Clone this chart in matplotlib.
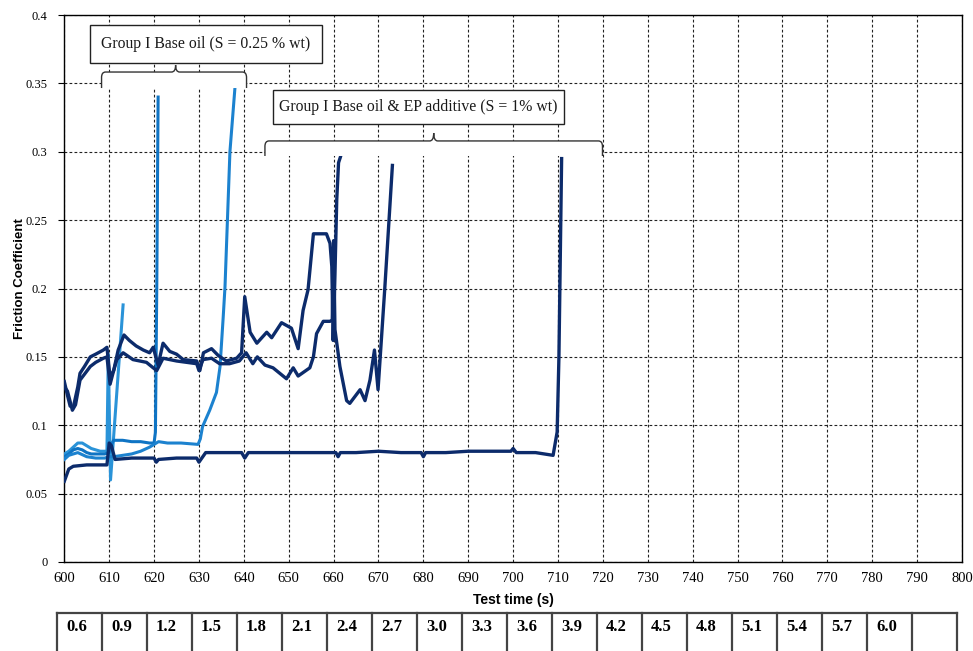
import matplotlib
matplotlib.use('Agg')
import matplotlib.pyplot as plt
from matplotlib.path import Path
from matplotlib.patches import PathPatch, Rectangle

# Group I base oil runs (S = 0.25 % wt)
base_a_t = [600, 601, 602, 603, 604, 605, 606, 607, 608, 609, 609.5, 609.8, 610.3, 613.1]
base_a_v = [0.079, 0.081, 0.084, 0.087, 0.087, 0.085, 0.083, 0.082, 0.081, 0.081, 0.081, 0.152, 0.060, 0.188]

base_b_t = [600, 601, 602, 603, 604, 605, 606, 607, 608, 609, 610, 610.5, 611, 613, 615, 617,
            619, 620, 620.3, 620.6, 620.9]
base_b_v = [0.077, 0.079, 0.082, 0.083, 0.082, 0.080, 0.079, 0.079, 0.079, 0.079, 0.080, 0.086,
            0.089, 0.089, 0.088, 0.088, 0.087, 0.087, 0.095, 0.200, 0.340]

base_c_t = [600, 601, 603, 605, 607, 609, 610, 611, 613, 615, 617, 619, 620, 621, 623, 626,
            629.8, 630.3, 630.8, 632.4, 633.9, 634.7, 635.4, 635.8, 636.9, 638]
base_c_v = [0.075, 0.078, 0.080, 0.077, 0.076, 0.076, 0.077, 0.077, 0.078, 0.079, 0.081, 0.084,
            0.086, 0.088, 0.087, 0.087, 0.086, 0.090, 0.099, 0.111, 0.124, 0.143, 0.179, 0.201,
            0.300, 0.346]

# Group I base oil + EP additive runs (S = 1 % wt)
ep_d_t = [600, 601, 602, 605, 608, 609.5, 610, 610.5, 611.3, 615, 620, 620.5, 621, 625, 629.5,
          630, 631.5, 635, 639.5, 640.2, 641, 645, 650, 655, 660.5, 661, 661.5, 665, 670, 675,
          679.5, 680, 680.5, 685, 690, 695, 699.5, 700, 700.7, 705, 708.9, 709.8, 710.2, 710.8]
ep_d_v = [0.059, 0.068, 0.070, 0.071, 0.071, 0.071, 0.087, 0.085, 0.075, 0.076, 0.076, 0.073,
          0.075, 0.076, 0.076, 0.073, 0.080, 0.080, 0.080, 0.076, 0.080, 0.080, 0.080, 0.080,
          0.080, 0.077, 0.080, 0.080, 0.081, 0.080, 0.080, 0.077, 0.080, 0.080, 0.081, 0.081,
          0.081, 0.083, 0.080, 0.080, 0.078, 0.095, 0.150, 0.295]

ep_e_t = [600, 600.7, 601.3, 602, 603, 603.5, 604.5, 605.8, 607, 608.7, 609.5, 610.2, 611, 612,
          613.3, 614.5, 616, 617.6, 619, 619.8, 620.9, 622, 623.5, 625, 626.5, 629.5, 630.2, 631,
          632.8, 634.3, 636.1, 638.4, 639.5, 640.2, 641.4, 642.9, 645.1, 646.2, 648.4, 650.6,
          652.1, 653.2, 654.3, 655.5, 658.4, 659.2, 659.6, 659.9, 660.3, 660.7, 661.1, 661.5]
ep_e_v = [0.132, 0.122, 0.114, 0.113, 0.128, 0.138, 0.143, 0.150, 0.152, 0.155, 0.157, 0.135,
          0.140, 0.155, 0.166, 0.162, 0.158, 0.155, 0.153, 0.157, 0.144, 0.160, 0.154, 0.152,
          0.148, 0.147, 0.140, 0.153, 0.156, 0.151, 0.147, 0.149, 0.153, 0.194, 0.168, 0.160,
          0.168, 0.164, 0.175, 0.171, 0.156, 0.184, 0.199, 0.240, 0.240, 0.233, 0.216, 0.162,
          0.210, 0.265, 0.292, 0.296]

ep_f_t = [600, 600.7, 601.8, 602.5, 603.5, 605.8, 607, 608.7, 609.5, 610.2, 611, 611.7, 613.1,
          615.3, 618.3, 619.8, 620.6, 622, 625, 629.5, 630, 630.9, 632.8, 634.6, 636.8, 639,
          640.5, 642, 643, 644.7, 646.5, 649.5, 651, 652.1, 654.7, 655.5, 656.2, 657.7, 659.2,
          659.7, 660.0, 660.3, 661.4, 662.9, 663.6, 665.9, 667, 668.1, 669.1, 669.9, 671.4, 673.1]
ep_f_v = [0.128, 0.125, 0.111, 0.115, 0.133, 0.143, 0.146, 0.149, 0.150, 0.130, 0.140, 0.148,
          0.153, 0.148, 0.146, 0.142, 0.140, 0.149, 0.147, 0.145, 0.140, 0.148, 0.149, 0.145,
          0.145, 0.147, 0.153, 0.145, 0.150, 0.144, 0.142, 0.134, 0.142, 0.136, 0.142, 0.150,
          0.167, 0.176, 0.176, 0.177, 0.235, 0.170, 0.143, 0.118, 0.116, 0.126, 0.118, 0.133,
          0.155, 0.126, 0.200, 0.290]

# load row shown under the time axis
load_labels = ['0.6', '0.9', '1.2', '1.5', '1.8', '2.1', '2.4', '2.7', '3.0', '3.3',
               '3.6', '3.9', '4.2', '4.5', '4.8', '5.1', '5.4', '5.7', '6.0', '']

x_ticks = list(range(600, 801, 10))
y_ticks = [0, 0.05, 0.1, 0.15, 0.2, 0.25, 0.3, 0.35, 0.4]
y_tick_labels = ['0', '0.05', '0.1', '0.15', '0.2', '0.25', '0.3', '0.35', '0.4']

navy = '#0c2b6b'

W, H = 973, 651
fig = plt.figure(figsize=(W / 100, H / 100), dpi=100)
ax = fig.add_axes([64.3 / W, 1 - 562 / H, 897.7 / W, 547 / H])

ax.plot(base_a_t, base_a_v, color='#2a93d8', lw=2.2, zorder=3)
ax.plot(base_b_t, base_b_v, color='#0f74c4', lw=2.2, zorder=3)
ax.plot(base_c_t, base_c_v, color='#1c82cf', lw=2.2, zorder=3)
for t, v in [(ep_d_t, ep_d_v), (ep_e_t, ep_e_v), (ep_f_t, ep_f_v)]:
    ax.plot(t, v, color=navy, lw=2.4, zorder=4, solid_joinstyle='round')

ax.set_xlim(600, 800)
ax.set_ylim(0, 0.4)
ax.set_xticks(x_ticks)
ax.set_xticklabels([str(x) for x in x_ticks], family='Liberation Serif', fontsize=10.5)
ax.set_yticks(y_ticks)
ax.set_yticklabels(y_tick_labels, family='Liberation Serif', fontsize=9)
ax.tick_params(axis='x', length=0, pad=7)
ax.tick_params(axis='y', length=4, width=0.8, direction='out', pad=8)
ax.grid(True, color='#222222', linestyle=(0, (2.5, 2)), linewidth=0.8, zorder=1)
ax.set_axisbelow(True)
for s in ax.spines.values():
    s.set_color('black')
    s.set_linewidth(1.0)

ax.set_xlabel('Test time (s)', family='Liberation Sans', fontweight='bold', fontsize=10)
ax.set_ylabel('Friction Coefficient', family='Liberation Sans', fontweight='bold', fontsize=9.5)
ax.xaxis.set_label_coords(0.5, -0.057)
ax.yaxis.set_label_coords(-0.043, 0.519)


def curly_brace(x0, x1, xm, y_end, y_h, y_tip, rx=0.9, ry=0.004):
    verts = [(x0, y_end), (x0, y_h - ry), (x0, y_h), (x0 + rx, y_h),
             (xm - rx, y_h), (xm, y_h), (xm, y_tip), (xm, y_h), (xm + rx, y_h),
             (x1 - rx, y_h), (x1, y_h), (x1, y_h - ry), (x1, y_end)]
    codes = [Path.MOVETO, Path.LINETO, Path.CURVE3, Path.CURVE3,
             Path.LINETO, Path.CURVE3, Path.CURVE3, Path.CURVE3, Path.CURVE3,
             Path.LINETO, Path.CURVE3, Path.CURVE3, Path.LINETO]
    fill = Path(verts + [(x0, y_end)], codes + [Path.LINETO])
    ax.add_patch(PathPatch(fill, facecolor='white', edgecolor='none', zorder=5))
    ax.add_patch(PathPatch(Path(verts, codes), facecolor='none', edgecolor='#333333',
                           lw=1.0, zorder=6))


def label_box(x0, x1, y0, y1, text):
    ax.add_patch(Rectangle((x0, y0), x1 - x0, y1 - y0, facecolor='white',
                           edgecolor='#222222', lw=1.0, zorder=6))
    ax.text((x0 + x1) / 2, (y0 + y1) / 2, text, ha='center', va='center',
            family='Liberation Serif', fontsize=11.3, color='#1a1a1a', zorder=7)


curly_brace(608.3, 640.6, 624.8, 0.3466, 0.3583, 0.3634)
curly_brace(644.7, 719.9, 682.3, 0.2969, 0.3079, 0.3137)
label_box(605.7, 657.4, 0.3649, 0.3927, 'Group I Base oil (S = 0.25 % wt)')
label_box(646.4, 711.4, 0.3201, 0.3452, 'Group I Base oil & EP additive (S = 1% wt)')

# load table row
tax = fig.add_axes([57 / W, 0, 900 / W, 1 - 612.7 / H])
tax.set_xlim(0, len(load_labels))
tax.set_ylim(0, 1)
tax.axis('off')
tax.plot([0, len(load_labels)], [1, 1], color='#444444', lw=1.6, clip_on=False)
for i in range(len(load_labels) + 1):
    tax.plot([i, i], [0, 1], color='#444444', lw=1.6, clip_on=False)
for i, lab in enumerate(load_labels):
    tax.text(i + 0.43, 0.62, lab, ha='center', va='center', family='Liberation Serif',
             fontweight='bold', fontsize=12)

fig.savefig('out.png', dpi=100)
plt.close(fig)
